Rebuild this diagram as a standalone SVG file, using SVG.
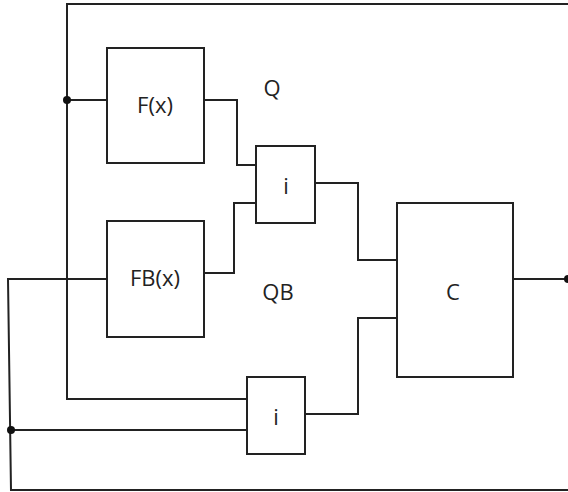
<svg xmlns="http://www.w3.org/2000/svg" width="568" height="492" viewBox="0 0 568 492">
<style>
.box{fill:#fff;stroke:#222;stroke-width:2}
.w{fill:none;stroke:#222;stroke-width:2}
.t{font-family:"Open Sans","DejaVu Sans",sans-serif;font-size:22px;fill:#222;text-anchor:middle}
.d{fill:#111}
</style>
<g id="connectors">
<polyline class="w" points="568,4 67,4 67,399 247,399"/>
<line class="w" x1="67" y1="100" x2="107" y2="100"/>
<polyline class="w" points="204,100 237,100 237,165 256,165"/>
<polyline class="w" points="204,273 234,273 234,203 258,203"/>
<polyline class="w" points="107,279 8,279 11,490 568,490"/>
<line class="w" x1="11" y1="430" x2="247" y2="430"/>
<polyline class="w" points="315,183 358,183 358,260 397,260"/>
<polyline class="w" points="305,414 358,414 358,318 397,318"/>
<line class="w" x1="513" y1="279" x2="568" y2="279"/>
<circle class="d" cx="67" cy="100" r="4"/>
<circle class="d" cx="11" cy="430" r="4"/>
<circle class="d" cx="568" cy="279" r="4"/>
</g>
<g id="F"><rect class="box" x="107" y="48" width="97" height="115"/><text class="t" x="155" y="113">F(x)</text></g>
<g id="FB"><rect class="box" x="107" y="221" width="97" height="116"/><text class="t" x="155" y="286">FB(x)</text></g>
<g id="i1"><rect class="box" x="256" y="146" width="59" height="77"/><text class="t" x="286" y="194">i</text></g>
<g id="i2"><rect class="box" x="247" y="377" width="58" height="77"/><text class="t" x="276" y="425">i</text></g>
<g id="C"><rect class="box" x="397" y="203" width="116" height="174"/><text class="t" x="453" y="300">C</text></g>
<g id="labels"><text class="t" x="272" y="96">Q</text><text class="t" x="278" y="300">QB</text></g>
</svg>
